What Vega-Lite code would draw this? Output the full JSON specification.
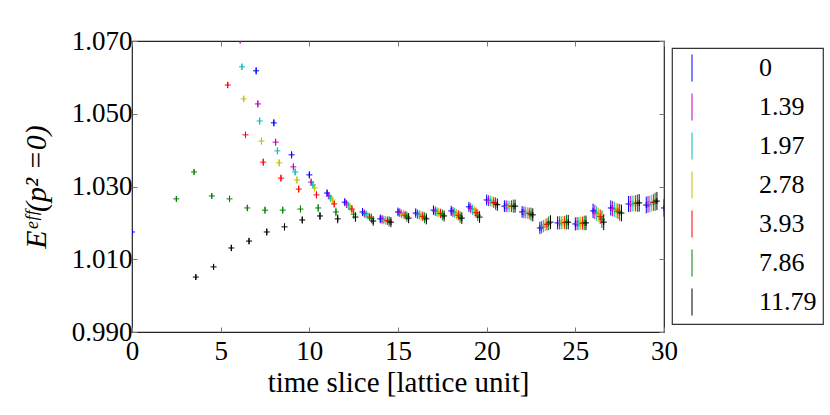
{
  "$schema": "https://vega.github.io/schema/vega-lite/v6.json",
  "width": 532,
  "height": 291,
  "autosize": "none",
  "padding": {"left": 132, "top": 41, "right": 166, "bottom": 83},
  "background": "white",
  "config": {
    "view": {"stroke": "#222", "strokeWidth": 1.2},
    "font": "Liberation Serif",
    "axis": {
      "grid": false, "domain": false, "tickColor": "#777", "tickSize": -5, "tickWidth": 1,
      "labelFont": "Liberation Serif", "labelColor": "black", "labelFontSize": 27,
      "titleFont": "Liberation Serif", "titleColor": "black", "titleFontWeight": "normal"
    },
    "legend": {
      "strokeColor": "#333", "strokeWidth": 1.2, "padding": 6, "fillColor": "white",
      "labelFont": "Liberation Serif", "labelFontSize": 26, "labelColor": "black", "labelLimit": 200,
      "symbolSize": 729, "symbolStrokeWidth": 1, "symbolFillColor": "transparent",
      "labelOffset": 53, "rowPadding": 7
    }
  },
  "data": {"values": [
    {"p": "0", "t": 0, "e": 1.0175, "d": 0.0003},
    {"p": "0", "t": 7, "e": 1.0618, "d": 0.0010},
    {"p": "0", "t": 8, "e": 1.0475, "d": 0.0010},
    {"p": "0", "t": 9, "e": 1.0387, "d": 0.0010},
    {"p": "0", "t": 10, "e": 1.0332, "d": 0.0010},
    {"p": "0", "t": 11, "e": 1.0282, "d": 0.0010},
    {"p": "0", "t": 12, "e": 1.0257, "d": 0.0011},
    {"p": "0", "t": 13, "e": 1.0230, "d": 0.0011},
    {"p": "0", "t": 14, "e": 1.0211, "d": 0.0012},
    {"p": "0", "t": 15, "e": 1.0230, "d": 0.0012},
    {"p": "0", "t": 16, "e": 1.0227, "d": 0.0013},
    {"p": "0", "t": 17, "e": 1.0235, "d": 0.0013},
    {"p": "0", "t": 18, "e": 1.0233, "d": 0.0014},
    {"p": "0", "t": 19, "e": 1.0244, "d": 0.0014},
    {"p": "0", "t": 20, "e": 1.0263, "d": 0.0015},
    {"p": "0", "t": 21, "e": 1.0246, "d": 0.0016},
    {"p": "0", "t": 22, "e": 1.0230, "d": 0.0016},
    {"p": "0", "t": 23, "e": 1.0186, "d": 0.0017},
    {"p": "0", "t": 24, "e": 1.0200, "d": 0.0018},
    {"p": "0", "t": 25, "e": 1.0197, "d": 0.0018},
    {"p": "0", "t": 26, "e": 1.0233, "d": 0.0020},
    {"p": "0", "t": 27, "e": 1.0241, "d": 0.0021},
    {"p": "0", "t": 28, "e": 1.0252, "d": 0.0022},
    {"p": "0", "t": 29, "e": 1.0249, "d": 0.0023},
    {"p": "0", "t": 30, "e": 1.0241, "d": 0.0024},
    {"p": "1.39", "t": 6.1, "e": 1.0702, "d": 0.0009},
    {"p": "1.39", "t": 7.1, "e": 1.0527, "d": 0.0010},
    {"p": "1.39", "t": 8.1, "e": 1.0422, "d": 0.0010},
    {"p": "1.39", "t": 9.1, "e": 1.0354, "d": 0.0010},
    {"p": "1.39", "t": 10.1, "e": 1.0312, "d": 0.0010},
    {"p": "1.39", "t": 11.1, "e": 1.0274, "d": 0.0010},
    {"p": "1.39", "t": 12.1, "e": 1.0252, "d": 0.0011},
    {"p": "1.39", "t": 13.1, "e": 1.0226, "d": 0.0011},
    {"p": "1.39", "t": 14.1, "e": 1.0210, "d": 0.0012},
    {"p": "1.39", "t": 15.1, "e": 1.0228, "d": 0.0012},
    {"p": "1.39", "t": 16.1, "e": 1.0224, "d": 0.0013},
    {"p": "1.39", "t": 17.1, "e": 1.0232, "d": 0.0013},
    {"p": "1.39", "t": 18.1, "e": 1.0230, "d": 0.0014},
    {"p": "1.39", "t": 19.1, "e": 1.0240, "d": 0.0014},
    {"p": "1.39", "t": 20.1, "e": 1.0261, "d": 0.0015},
    {"p": "1.39", "t": 21.1, "e": 1.0246, "d": 0.0016},
    {"p": "1.39", "t": 22.1, "e": 1.0229, "d": 0.0016},
    {"p": "1.39", "t": 23.1, "e": 1.0188, "d": 0.0017},
    {"p": "1.39", "t": 24.1, "e": 1.0200, "d": 0.0018},
    {"p": "1.39", "t": 25.1, "e": 1.0198, "d": 0.0018},
    {"p": "1.39", "t": 26.1, "e": 1.0230, "d": 0.0020},
    {"p": "1.39", "t": 27.1, "e": 1.0239, "d": 0.0021},
    {"p": "1.39", "t": 28.1, "e": 1.0252, "d": 0.0022},
    {"p": "1.39", "t": 29.1, "e": 1.0251, "d": 0.0023},
    {"p": "1.97", "t": 6.2, "e": 1.0629, "d": 0.0009},
    {"p": "1.97", "t": 7.2, "e": 1.0480, "d": 0.0010},
    {"p": "1.97", "t": 8.2, "e": 1.0398, "d": 0.0010},
    {"p": "1.97", "t": 9.2, "e": 1.0340, "d": 0.0010},
    {"p": "1.97", "t": 10.2, "e": 1.0304, "d": 0.0010},
    {"p": "1.97", "t": 11.2, "e": 1.0268, "d": 0.0010},
    {"p": "1.97", "t": 12.2, "e": 1.0247, "d": 0.0011},
    {"p": "1.97", "t": 13.2, "e": 1.0223, "d": 0.0011},
    {"p": "1.97", "t": 14.2, "e": 1.0208, "d": 0.0012},
    {"p": "1.97", "t": 15.2, "e": 1.0225, "d": 0.0012},
    {"p": "1.97", "t": 16.2, "e": 1.0222, "d": 0.0013},
    {"p": "1.97", "t": 17.2, "e": 1.0230, "d": 0.0013},
    {"p": "1.97", "t": 18.2, "e": 1.0227, "d": 0.0014},
    {"p": "1.97", "t": 19.2, "e": 1.0236, "d": 0.0014},
    {"p": "1.97", "t": 20.2, "e": 1.0260, "d": 0.0015},
    {"p": "1.97", "t": 21.2, "e": 1.0245, "d": 0.0016},
    {"p": "1.97", "t": 22.2, "e": 1.0228, "d": 0.0016},
    {"p": "1.97", "t": 23.2, "e": 1.0191, "d": 0.0017},
    {"p": "1.97", "t": 24.2, "e": 1.0200, "d": 0.0018},
    {"p": "1.97", "t": 25.2, "e": 1.0198, "d": 0.0018},
    {"p": "1.97", "t": 26.2, "e": 1.0226, "d": 0.0020},
    {"p": "1.97", "t": 27.2, "e": 1.0237, "d": 0.0021},
    {"p": "1.97", "t": 28.2, "e": 1.0253, "d": 0.0022},
    {"p": "1.97", "t": 29.2, "e": 1.0252, "d": 0.0023},
    {"p": "2.78", "t": 6.3, "e": 1.0541, "d": 0.0009},
    {"p": "2.78", "t": 7.3, "e": 1.0425, "d": 0.0010},
    {"p": "2.78", "t": 8.3, "e": 1.0365, "d": 0.0010},
    {"p": "2.78", "t": 9.3, "e": 1.0318, "d": 0.0010},
    {"p": "2.78", "t": 10.3, "e": 1.0296, "d": 0.0010},
    {"p": "2.78", "t": 11.3, "e": 1.0263, "d": 0.0010},
    {"p": "2.78", "t": 12.3, "e": 1.0243, "d": 0.0011},
    {"p": "2.78", "t": 13.3, "e": 1.0220, "d": 0.0011},
    {"p": "2.78", "t": 14.3, "e": 1.0207, "d": 0.0012},
    {"p": "2.78", "t": 15.3, "e": 1.0223, "d": 0.0012},
    {"p": "2.78", "t": 16.3, "e": 1.0220, "d": 0.0013},
    {"p": "2.78", "t": 17.3, "e": 1.0228, "d": 0.0013},
    {"p": "2.78", "t": 18.3, "e": 1.0224, "d": 0.0014},
    {"p": "2.78", "t": 19.3, "e": 1.0232, "d": 0.0014},
    {"p": "2.78", "t": 20.3, "e": 1.0258, "d": 0.0015},
    {"p": "2.78", "t": 21.3, "e": 1.0245, "d": 0.0016},
    {"p": "2.78", "t": 22.3, "e": 1.0227, "d": 0.0016},
    {"p": "2.78", "t": 23.3, "e": 1.0194, "d": 0.0017},
    {"p": "2.78", "t": 24.3, "e": 1.0201, "d": 0.0018},
    {"p": "2.78", "t": 25.3, "e": 1.0199, "d": 0.0018},
    {"p": "2.78", "t": 26.3, "e": 1.0222, "d": 0.0020},
    {"p": "2.78", "t": 27.3, "e": 1.0234, "d": 0.0021},
    {"p": "2.78", "t": 28.3, "e": 1.0253, "d": 0.0022},
    {"p": "2.78", "t": 29.3, "e": 1.0254, "d": 0.0023},
    {"p": "3.93", "t": 5.4, "e": 1.0579, "d": 0.0009},
    {"p": "3.93", "t": 6.4, "e": 1.0442, "d": 0.0009},
    {"p": "3.93", "t": 7.4, "e": 1.0367, "d": 0.0010},
    {"p": "3.93", "t": 8.4, "e": 1.0323, "d": 0.0010},
    {"p": "3.93", "t": 9.4, "e": 1.0293, "d": 0.0010},
    {"p": "3.93", "t": 10.4, "e": 1.0277, "d": 0.0010},
    {"p": "3.93", "t": 11.4, "e": 1.0252, "d": 0.0010},
    {"p": "3.93", "t": 12.4, "e": 1.0238, "d": 0.0011},
    {"p": "3.93", "t": 13.4, "e": 1.0216, "d": 0.0011},
    {"p": "3.93", "t": 14.4, "e": 1.0206, "d": 0.0012},
    {"p": "3.93", "t": 15.4, "e": 1.0221, "d": 0.0012},
    {"p": "3.93", "t": 16.4, "e": 1.0218, "d": 0.0013},
    {"p": "3.93", "t": 17.4, "e": 1.0226, "d": 0.0013},
    {"p": "3.93", "t": 18.4, "e": 1.0221, "d": 0.0014},
    {"p": "3.93", "t": 19.4, "e": 1.0228, "d": 0.0014},
    {"p": "3.93", "t": 20.4, "e": 1.0256, "d": 0.0015},
    {"p": "3.93", "t": 21.4, "e": 1.0246, "d": 0.0016},
    {"p": "3.93", "t": 22.4, "e": 1.0226, "d": 0.0016},
    {"p": "3.93", "t": 23.4, "e": 1.0196, "d": 0.0017},
    {"p": "3.93", "t": 24.4, "e": 1.0201, "d": 0.0018},
    {"p": "3.93", "t": 25.4, "e": 1.0199, "d": 0.0018},
    {"p": "3.93", "t": 26.4, "e": 1.0217, "d": 0.0020},
    {"p": "3.93", "t": 27.4, "e": 1.0232, "d": 0.0021},
    {"p": "3.93", "t": 28.4, "e": 1.0254, "d": 0.0022},
    {"p": "3.93", "t": 29.4, "e": 1.0256, "d": 0.0023},
    {"p": "7.86", "t": 2.5, "e": 1.0266, "d": 0.0008},
    {"p": "7.86", "t": 3.5, "e": 1.0340, "d": 0.0008},
    {"p": "7.86", "t": 4.5, "e": 1.0274, "d": 0.0008},
    {"p": "7.86", "t": 5.5, "e": 1.0266, "d": 0.0009},
    {"p": "7.86", "t": 6.5, "e": 1.0241, "d": 0.0009},
    {"p": "7.86", "t": 7.5, "e": 1.0235, "d": 0.0010},
    {"p": "7.86", "t": 8.5, "e": 1.0235, "d": 0.0010},
    {"p": "7.86", "t": 9.5, "e": 1.0238, "d": 0.0010},
    {"p": "7.86", "t": 10.5, "e": 1.0241, "d": 0.0011},
    {"p": "7.86", "t": 11.5, "e": 1.0230, "d": 0.0012},
    {"p": "7.86", "t": 12.5, "e": 1.0224, "d": 0.0013},
    {"p": "7.86", "t": 13.5, "e": 1.0212, "d": 0.0013},
    {"p": "7.86", "t": 14.5, "e": 1.0204, "d": 0.0014},
    {"p": "7.86", "t": 15.5, "e": 1.0217, "d": 0.0014},
    {"p": "7.86", "t": 16.5, "e": 1.0214, "d": 0.0015},
    {"p": "7.86", "t": 17.5, "e": 1.0222, "d": 0.0015},
    {"p": "7.86", "t": 18.5, "e": 1.0216, "d": 0.0016},
    {"p": "7.86", "t": 19.5, "e": 1.0221, "d": 0.0016},
    {"p": "7.86", "t": 20.5, "e": 1.0253, "d": 0.0017},
    {"p": "7.86", "t": 21.5, "e": 1.0246, "d": 0.0018},
    {"p": "7.86", "t": 22.5, "e": 1.0224, "d": 0.0018},
    {"p": "7.86", "t": 23.5, "e": 1.0199, "d": 0.0019},
    {"p": "7.86", "t": 24.5, "e": 1.0202, "d": 0.0020},
    {"p": "7.86", "t": 25.5, "e": 1.0200, "d": 0.0020},
    {"p": "7.86", "t": 26.5, "e": 1.0210, "d": 0.0024},
    {"p": "7.86", "t": 27.5, "e": 1.0229, "d": 0.0023},
    {"p": "7.86", "t": 28.5, "e": 1.0254, "d": 0.0024},
    {"p": "7.86", "t": 29.5, "e": 1.0258, "d": 0.0025},
    {"p": "11.79", "t": 3.6, "e": 1.0051, "d": 0.0008},
    {"p": "11.79", "t": 4.6, "e": 1.0079, "d": 0.0008},
    {"p": "11.79", "t": 5.6, "e": 1.0131, "d": 0.0009},
    {"p": "11.79", "t": 6.6, "e": 1.0150, "d": 0.0009},
    {"p": "11.79", "t": 7.6, "e": 1.0175, "d": 0.0010},
    {"p": "11.79", "t": 8.6, "e": 1.0189, "d": 0.0010},
    {"p": "11.79", "t": 9.6, "e": 1.0208, "d": 0.0010},
    {"p": "11.79", "t": 10.6, "e": 1.0219, "d": 0.0011},
    {"p": "11.79", "t": 11.6, "e": 1.0211, "d": 0.0012},
    {"p": "11.79", "t": 12.6, "e": 1.0216, "d": 0.0013},
    {"p": "11.79", "t": 13.6, "e": 1.0205, "d": 0.0013},
    {"p": "11.79", "t": 14.6, "e": 1.0202, "d": 0.0014},
    {"p": "11.79", "t": 15.6, "e": 1.0213, "d": 0.0014},
    {"p": "11.79", "t": 16.6, "e": 1.0211, "d": 0.0015},
    {"p": "11.79", "t": 17.6, "e": 1.0219, "d": 0.0015},
    {"p": "11.79", "t": 18.6, "e": 1.0213, "d": 0.0016},
    {"p": "11.79", "t": 19.6, "e": 1.0216, "d": 0.0016},
    {"p": "11.79", "t": 20.6, "e": 1.0250, "d": 0.0017},
    {"p": "11.79", "t": 21.6, "e": 1.0246, "d": 0.0018},
    {"p": "11.79", "t": 22.6, "e": 1.0222, "d": 0.0018},
    {"p": "11.79", "t": 23.6, "e": 1.0202, "d": 0.0019},
    {"p": "11.79", "t": 24.6, "e": 1.0202, "d": 0.0020},
    {"p": "11.79", "t": 25.6, "e": 1.0200, "d": 0.0020},
    {"p": "11.79", "t": 26.6, "e": 1.0202, "d": 0.0022},
    {"p": "11.79", "t": 27.6, "e": 1.0227, "d": 0.0023},
    {"p": "11.79", "t": 28.6, "e": 1.0255, "d": 0.0024},
    {"p": "11.79", "t": 29.6, "e": 1.0260, "d": 0.0025}
  ]},
  "layer": [
    {
      "mark": {"type": "errorbar", "ticks": false, "thickness": 1, "clip": true},
      "encoding": {
        "x": {
          "field": "t", "type": "quantitative",
          "scale": {"domain": [0, 30], "nice": false},
          "axis": {"orient": "bottom", "values": [0, 5, 10, 15, 20, 25, 30], "labelPadding": 11, "labelFlush": false,
                   "title": "time slice [lattice unit]", "titleFontSize": 29, "titlePadding": 4}
        },
        "y": {
          "field": "e", "type": "quantitative",
          "scale": {"domain": [0.99, 1.07], "nice": false, "zero": false},
          "axis": {"orient": "left", "values": [0.99, 1.01, 1.03, 1.05, 1.07], "format": ".3f", "labelPadding": 5, "labelFlush": false,
                   "title": "Eᵉᶠᶠ(p² =0)", "titleFont": "Liberation Serif, DejaVu Serif", "titleFontSize": 30, "titleFontStyle": "italic", "titlePadding": 20}
        },
        "yError": {"field": "d"},
        "color": {
          "field": "p", "type": "nominal",
          "scale": {"domain": ["0", "1.39", "1.97", "2.78", "3.93", "7.86", "11.79"],
                    "range": ["#0000ff", "#bf00bf", "#00bfbf", "#bfbf00", "#ff0000", "#008000", "#000000"]},
          "legend": {"title": null, "orient": "none", "legendX": 540, "legendY": 7,
                     "symbolType": "M0,-1L0,1", "symbolSize": 729, "symbolStrokeWidth": 1, "symbolFillColor": "transparent"}
        }
      }
    },
    {
      "mark": {"type": "point", "shape": "M-1,0L1,0M0,-1L0,1", "filled": false, "size": 36, "strokeWidth": 1, "opacity": 1, "clip": true},
      "encoding": {
        "x": {"field": "t", "type": "quantitative", "axis": {"orient": "top", "values": [0, 5, 10, 15, 20, 25, 30], "labels": false, "title": null}},
        "y": {"field": "e", "type": "quantitative", "axis": {"orient": "right", "values": [0.99, 1.01, 1.03, 1.05, 1.07], "labels": false, "title": null}},
        "color": {"field": "p", "type": "nominal", "legend": null}
      }
    }
  ],
  "resolve": {"axis": {"x": "independent", "y": "independent"}, "legend": {"color": "independent"}}
}
